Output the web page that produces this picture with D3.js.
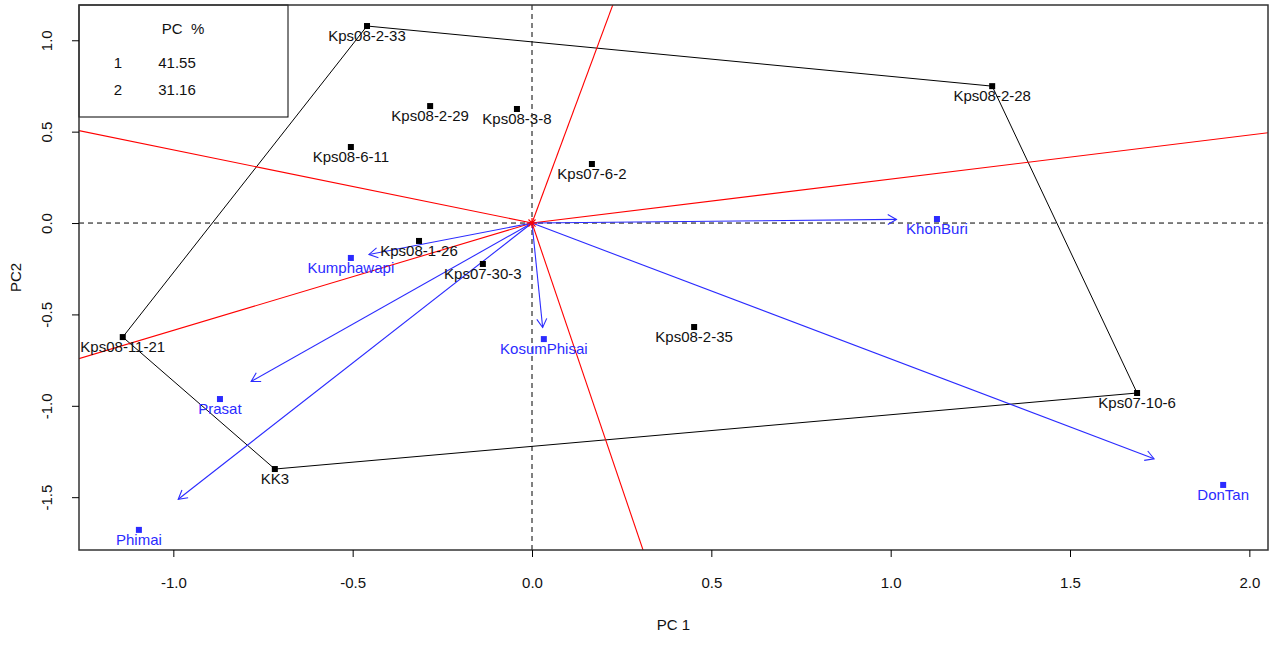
<!DOCTYPE html>
<html><head><meta charset="utf-8">
<script src="https://cdn.jsdelivr.net/npm/d3@7"></script>
<style>body{margin:0;background:#fff}svg{display:block}text{font-family:"Liberation Sans",Arial,sans-serif}</style>
</head><body><svg id="c" width="1279" height="646"></svg>
<script>
const genoNames = ["Kps08-2-33","Kps08-2-29","Kps08-3-8","Kps08-6-11","Kps07-6-2","Kps08-2-28","Kps07-10-6","Kps08-11-21","KK3","Kps08-1-26","Kps07-30-3","Kps08-2-35"];
const genoPC1 = [-0.460,-0.284,-0.042,-0.505,0.167,1.283,1.687,-1.141,-0.717,-0.315,-0.137,0.452];
const genoPC2 = [1.078,0.640,0.624,0.416,0.323,0.749,-0.930,-0.624,-1.346,-0.098,-0.224,-0.569];
const envNames = ["KhonBuri","Kumphawapi","KosumPhisai","Prasat","Phimai","DonTan"];
const envPC1 = [1.129,-0.505,0.033,-0.870,-1.096,1.927];
const envPC2 = [0.022,-0.191,-0.635,-0.963,-1.679,-1.433];
const hullOrder = ["Kps08-2-33","Kps08-2-28","Kps07-10-6","KK3","Kps08-11-21"];
const arrowShrink = 0.9;
const xTicks = [-1.0,-0.5,0.0,0.5,1.0,1.5,2.0];
const yTicks = [1.0,0.5,0.0,-0.5,-1.0,-1.5];
const pcLabels = ["1","2"];
const pcPercent = ["41.55","31.16"];

const svg = d3.select("#c");
const L=79,R=1268,T=5,B=550;
const x = d3.scaleLinear().domain([-1.263,2.052]).range([L,R]);
const y = d3.scaleLinear().domain([-1.789,1.193]).range([B,T]);
const blue="#2b2bff";

svg.append("defs").append("clipPath").attr("id","clip").append("rect")
  .attr("x",L).attr("y",T).attr("width",R-L).attr("height",B-T);
const g = svg.append("g").attr("clip-path","url(#clip)");

// dashed axes
g.append("line").attr("x1",L).attr("x2",R).attr("y1",y(0)).attr("y2",y(0))
  .attr("stroke","#000").attr("stroke-dasharray","5,4");
g.append("line").attr("x1",x(0)).attr("x2",x(0)).attr("y1",T).attr("y2",B)
  .attr("stroke","#000").attr("stroke-dasharray","5,4");

// hull polygon
const geno = genoNames.map((n,i)=>({n,x:genoPC1[i],y:genoPC2[i]}));
const hull = hullOrder.map(n=>geno.find(d=>d.n===n));
g.append("path").attr("d",d3.line().x(d=>x(d.x)).y(d=>y(d.y))(hull)+"Z")
  .attr("fill","none").attr("stroke","#000").attr("stroke-width",1);

// red perpendicular rays
hull.forEach((a,i)=>{
  const b=hull[(i+1)%hull.length];
  let dx=-(b.y-a.y), dy=b.x-a.x;
  const mx=(a.x+b.x)/2, my=(a.y+b.y)/2;
  if(dx*mx+dy*my<0){dx=-dx;dy=-dy;}
  const k=20;
  g.append("line").attr("x1",x(0)).attr("y1",y(0)).attr("x2",x(dx*k)).attr("y2",y(dy*k))
    .attr("stroke","#ff0000").attr("stroke-width",1.1);
});

// environment arrows
const env = envNames.map((n,i)=>({n,x:envPC1[i],y:envPC2[i]}));
env.forEach(e=>{
  const x0=x(0),y0=y(0),x1=x(e.x*arrowShrink),y1=y(e.y*arrowShrink);
  g.append("line").attr("x1",x0).attr("y1",y0).attr("x2",x1).attr("y2",y1)
    .attr("stroke",blue).attr("stroke-width",1.1);
  const ang=Math.atan2(y1-y0,x1-x0), len=10, a=Math.PI/6;
  const p=[[x1-len*Math.cos(ang-a),y1-len*Math.sin(ang-a)],[x1,y1],[x1-len*Math.cos(ang+a),y1-len*Math.sin(ang+a)]];
  g.append("path").attr("d",d3.line()(p)).attr("fill","none").attr("stroke",blue).attr("stroke-width",1.1);
});

// origin asterisk
const ox=x(0),oy=y(0),r=5;
[[0,1],[1,0],[0.707,0.707],[0.707,-0.707]].forEach(([a,b])=>{
  g.append("line").attr("x1",ox-r*a).attr("y1",oy-r*b).attr("x2",ox+r*a).attr("y2",oy+r*b)
   .attr("stroke","#ff0000").attr("stroke-width",1.2);
});

// genotype points and labels
geno.forEach(d=>{
  g.append("rect").attr("x",x(d.x)-3).attr("y",y(d.y)-3).attr("width",6).attr("height",6).attr("fill","#000");
  svg.append("text").attr("x",x(d.x)).attr("y",y(d.y)+10).attr("dy","0.35em")
    .attr("text-anchor","middle").attr("font-size",15).attr("fill","#111").text(d.n);
});
env.forEach(d=>{
  g.append("rect").attr("x",x(d.x)-3).attr("y",y(d.y)-3).attr("width",6).attr("height",6).attr("fill",blue);
  svg.append("text").attr("x",x(d.x)).attr("y",y(d.y)+10).attr("dy","0.35em")
    .attr("text-anchor","middle").attr("font-size",15).attr("fill",blue).text(d.n);
});

// legend box
svg.append("rect").attr("x",L).attr("y",T).attr("width",209).attr("height",112)
  .attr("fill","#fff").attr("stroke","#000").attr("stroke-width",1);
svg.append("text").attr("x",183).attr("y",29).attr("dy","0.35em").attr("text-anchor","middle")
  .attr("font-size",15).attr("fill","#111").text("PC  %").style("white-space","pre");
pcLabels.forEach((p,i)=>{
  svg.append("text").attr("x",118).attr("y",63+i*27).attr("dy","0.35em").attr("text-anchor","middle")
    .attr("font-size",15).attr("fill","#111").text(p);
  svg.append("text").attr("x",177).attr("y",63+i*27).attr("dy","0.35em").attr("text-anchor","middle")
    .attr("font-size",15).attr("fill","#111").text(pcPercent[i]);
});

// frame
svg.append("rect").attr("x",L).attr("y",T).attr("width",R-L).attr("height",B-T)
  .attr("fill","none").attr("stroke","#333").attr("stroke-width",1.5);

// axes
const fmt=v=>d3.format(".1f")(v).replace("\u2212","-");
const xa=svg.append("g").attr("transform",`translate(0,${B})`)
  .call(d3.axisBottom(x).tickValues(xTicks).tickFormat(fmt).tickSize(7).tickSizeOuter(0));
xa.select(".domain").remove();
xa.selectAll("text").attr("font-size",15).attr("fill","#111").attr("dy","0").attr("y",38)
  .attr("font-family","Liberation Sans, Arial, sans-serif");
const ya=svg.append("g").attr("transform",`translate(${L},0)`)
  .call(d3.axisLeft(y).tickValues(yTicks).tickFormat(fmt).tickSize(7).tickSizeOuter(0));
ya.select(".domain").remove();
ya.selectAll("text").attr("font-size",15).attr("fill","#111")
  .attr("font-family","Liberation Sans, Arial, sans-serif")
  .attr("x",0).attr("dy",0).attr("text-anchor","middle")
  .attr("transform","translate(-27,0) rotate(-90)");
svg.append("text").attr("x",(L+R)/2).attr("y",630).attr("text-anchor","middle")
  .attr("font-size",15).attr("fill","#111").text("PC 1");
svg.append("text").attr("transform",`translate(21,${(T+B)/2}) rotate(-90)`).attr("text-anchor","middle")
  .attr("font-size",15).attr("fill","#111").text("PC2");
</script></body></html>
